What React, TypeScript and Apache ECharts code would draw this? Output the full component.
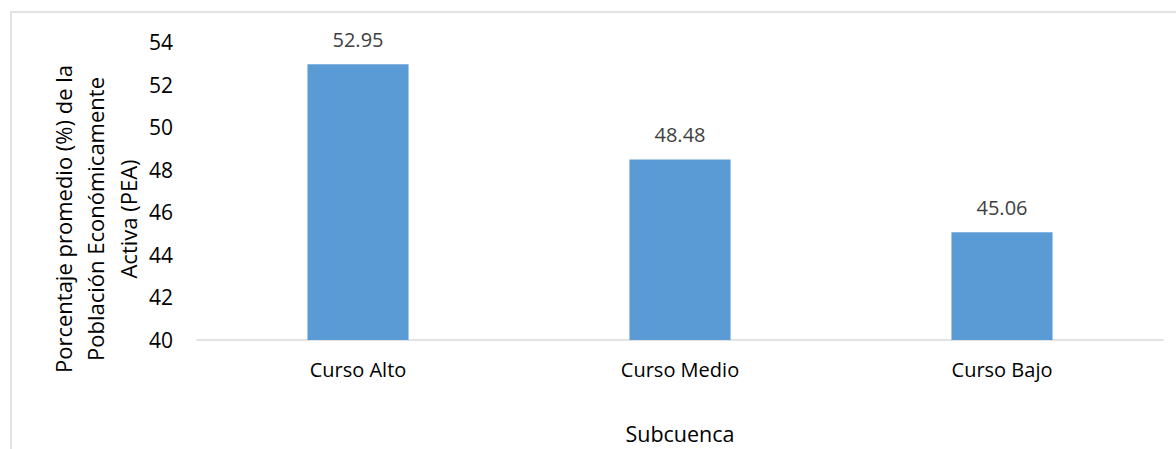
import React, { useEffect, useRef } from "react";
import * as echarts from "echarts";

const categories = ["Curso Alto", "Curso Medio", "Curso Bajo"];
const values = [52.95, 48.48, 45.06];
const yTitleLines = ["Porcentaje promedio (%) de la", "Población Económicamente", "Activa (PEA)"];
const xTitle = "Subcuenca";

const FONT = "'Open Sans', sans-serif";

export default function App() {
  const ref = useRef<HTMLDivElement>(null);
  useEffect(() => {
    document.body.style.margin = "0";
    const chart = echarts.init(ref.current!, null, { renderer: "svg" });
    chart.setOption({
      animation: false,
      backgroundColor: "#ffffff",
      textStyle: { fontFamily: FONT },
      grid: { left: 197, right: 13, top: 42, bottom: 109, containLabel: false },
      graphic: [
        {
          type: "rect",
          shape: { x: 11, y: 12, width: 1200, height: 500 },
          style: { fill: "none", stroke: "#d9d9d9", lineWidth: 1.5 },
          silent: true,
        },
        {
          type: "text",
          x: 95,
          y: 219,
          rotation: Math.PI / 2,
          style: {
            text: yTitleLines.join("\n"),
            fontFamily: FONT,
            fontSize: 22,
            lineHeight: 32.5,
            fill: "#000000",
            align: "center",
            verticalAlign: "middle",
          },
        },
      ],
      xAxis: {
        type: "category",
        data: categories,
        name: xTitle,
        nameLocation: "middle",
        nameGap: 82,
        nameTextStyle: { fontFamily: FONT, fontSize: 21.5, color: "#000000" },
        axisLine: { lineStyle: { color: "#d9d9d9", width: 1.5 } },
        axisTick: { show: false },
        axisLabel: { fontFamily: FONT, fontSize: 20, color: "#000000", margin: 19 },
      },
      yAxis: {
        type: "value",
        min: 40,
        max: 54,
        interval: 2,
        axisLine: { show: false },
        axisTick: { show: false },
        splitLine: { show: false },
        axisLabel: { fontFamily: FONT, fontSize: 21, color: "#000000", margin: 24 },
      },
      series: [
        {
          type: "bar",
          data: values,
          barWidth: "31.4%",
          itemStyle: { color: "#5b9bd5" },
          label: {
            show: true,
            position: "top",
            distance: 15,
            fontFamily: FONT,
            fontSize: 20,
            color: "#404040",
            formatter: (p: any) => p.value.toFixed(2),
          },
        },
      ],
    });
    return () => chart.dispose();
  }, []);
  return <div ref={ref} style={{ width: 1176, height: 449 }} />;
}
